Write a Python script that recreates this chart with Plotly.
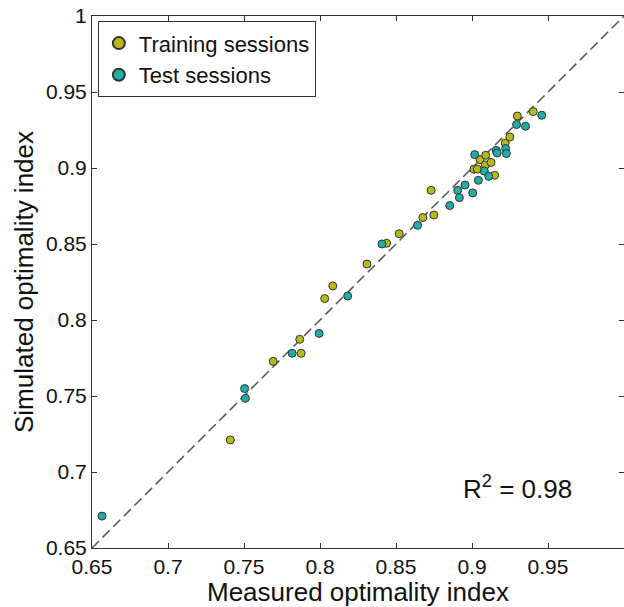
import plotly.graph_objects as go

# Training sessions (measured, simulated)
train_measured = [0.7410, 0.7692, 0.7867, 0.7876, 0.8031, 0.8084, 0.8309, 0.8438,
                  0.8521, 0.8677, 0.8731, 0.8749, 0.9013, 0.9035, 0.9053, 0.9088,
                  0.9090, 0.9125, 0.9149, 0.9219, 0.9249, 0.9298, 0.9403]
train_simulated = [0.7211, 0.7728, 0.7873, 0.7781, 0.8141, 0.8224, 0.8368, 0.8505,
                   0.8568, 0.8674, 0.8853, 0.8691, 0.8992, 0.8993, 0.9055, 0.9020,
                   0.9084, 0.9037, 0.8952, 0.9164, 0.9204, 0.9342, 0.9371]

# Test sessions (measured, simulated)
test_measured = [0.6566, 0.7504, 0.7509, 0.7817, 0.7994, 0.8182, 0.8408, 0.8642,
                 0.8854, 0.8906, 0.8917, 0.8954, 0.9005, 0.9018, 0.9042, 0.9081,
                 0.9110, 0.9159, 0.9166, 0.9221, 0.9226, 0.9293, 0.9352, 0.9459]
test_simulated = [0.6710, 0.7549, 0.7485, 0.7781, 0.7912, 0.8158, 0.8500, 0.8623,
                  0.8753, 0.8853, 0.8805, 0.8888, 0.8836, 0.9088, 0.8919, 0.8980,
                  0.8945, 0.9116, 0.9099, 0.9128, 0.9095, 0.9286, 0.9275, 0.9347]

identity = [0.65, 1.0]

x_ticks = [0.65, 0.7, 0.75, 0.8, 0.85, 0.9, 0.95]
x_ticklabels = ["0.65", "0.7", "0.75", "0.8", "0.85", "0.9", "0.95"]
y_ticks = [0.65, 0.7, 0.75, 0.8, 0.85, 0.9, 0.95, 1.0]
y_ticklabels = ["0.65", "0.7", "0.75", "0.8", "0.85", "0.9", "0.95", "1"]

r2_text = "R<sup>2</sup> = 0.98"

FONT = "Liberation Sans, Arial, sans-serif"
TRAIN_COLOR = "#b9b91c"
TEST_COLOR = "#20ada6"

fig = go.Figure()
fig.add_trace(go.Scatter(
    x=identity, y=identity, mode="lines",
    line=dict(color="#555555", width=1.5, dash="10px,5px"),
    showlegend=False, hoverinfo="skip"))
fig.add_trace(go.Scatter(
    x=train_measured, y=train_simulated, mode="markers", name="Training sessions",
    marker=dict(size=8, color=TRAIN_COLOR, line=dict(color="#333333", width=1))))
fig.add_trace(go.Scatter(
    x=test_measured, y=test_simulated, mode="markers", name="Test sessions",
    marker=dict(size=8, color=TEST_COLOR, line=dict(color="#333333", width=1))))

axis_common = dict(showline=True, linecolor="#333333", linewidth=1, mirror="allticks",
                   ticks="inside", ticklen=5, tickcolor="#333333", showgrid=False,
                   zeroline=False, tickfont=dict(family=FONT, size=21, color="#111111"))

fig.update_xaxes(range=[0.65, 1.0], tickvals=x_ticks, ticktext=x_ticklabels,
                 title=dict(text="Measured optimality index", standoff=0,
                            font=dict(family=FONT, size=26, color="#111111")),
                 **axis_common)
fig.update_yaxes(range=[0.65, 1.0], tickvals=y_ticks, ticktext=y_ticklabels,
                 title=dict(text="Simulated optimality index", standoff=4,
                            font=dict(family=FONT, size=26, color="#111111")),
                 **axis_common)

fig.add_annotation(x=0.93, y=0.69, xref="x", yref="y", text=r2_text, showarrow=False,
                   xanchor="center", yanchor="middle",
                   font=dict(family=FONT, size=26, color="#111111"))

fig.update_layout(
    width=624, height=607,
    margin=dict(l=92, r=0, t=16, b=59),
    paper_bgcolor="white", plot_bgcolor="white",
    legend=dict(x=0.011, y=0.99, xanchor="left", yanchor="top",
                bordercolor="#333333", borderwidth=1, bgcolor="white",
                font=dict(family=FONT, size=22, color="#111111"),
                itemsizing="constant", tracegroupgap=0),
    font=dict(family=FONT),
)

fig.write_html("out.html", config={"displayModeBar": False},
               post_script="document.body.style.margin='0';document.body.style.overflow='hidden';")
